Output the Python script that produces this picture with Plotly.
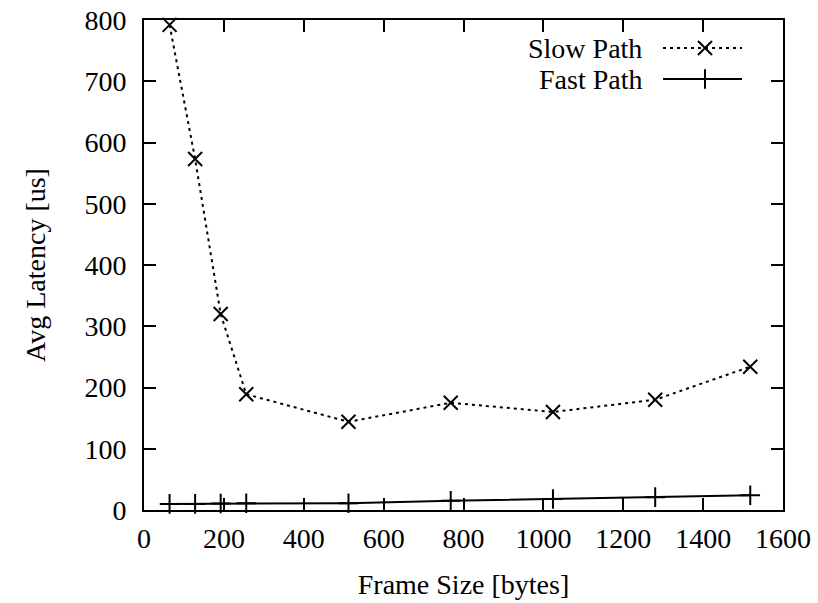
import plotly.graph_objects as go

frame_size = [64, 128, 192, 256, 512, 768, 1024, 1280, 1518]
slow_path = [792, 573, 320, 189, 144, 175, 160, 180, 234]
fast_path = [10, 10, 10.5, 11, 11, 15, 18, 21, 24]

x_ticks = [0, 200, 400, 600, 800, 1000, 1200, 1400, 1600]
y_ticks = [0, 100, 200, 300, 400, 500, 600, 700, 800]

FONT = "Liberation Serif"
FS = 28
W, H = 818, 603
# plot box in window pixels: left 144, right 783, top 20, bottom 510
L, R, T, B = 144, W - 783, 20, H - 510

fig = go.Figure()

fig.add_trace(go.Scatter(
    x=frame_size, y=slow_path, mode="lines+markers", name="Slow Path",
    line=dict(color="black", width=2, dash="3px,4px"),
    marker=dict(symbol="x-thin", size=14, line=dict(color="black", width=2)),
    showlegend=False, cliponaxis=False))
fig.add_trace(go.Scatter(
    x=frame_size, y=fast_path, mode="lines+markers", name="Fast Path",
    line=dict(color="black", width=2),
    marker=dict(symbol="cross-thin", size=14, line=dict(color="black", width=2)),
    showlegend=False, cliponaxis=False))

# legend samples (gnuplot style: text left of sample) on an overlay paper-like axis
def px2x(px):
    return (px - L) / (W - L - R)

def py2y(py):
    return (H - B - py) / (H - T - B)

lx0, lx1, lxm = px2x(663), px2x(742), px2x(705)
ly1, ly2 = py2y(48), py2y(79)

fig.add_trace(go.Scatter(x=[lx0, lx1], y=[ly1, ly1], mode="lines", xaxis="x2", yaxis="y2",
                         line=dict(color="black", width=2, dash="3px,4px"), showlegend=False,
                         hoverinfo="skip"))
fig.add_trace(go.Scatter(x=[lxm], y=[ly1], mode="markers", xaxis="x2", yaxis="y2",
                         marker=dict(symbol="x-thin", size=14, line=dict(color="black", width=2)),
                         showlegend=False, hoverinfo="skip"))
fig.add_trace(go.Scatter(x=[lx0, lx1], y=[ly2, ly2], mode="lines", xaxis="x2", yaxis="y2",
                         line=dict(color="black", width=2), showlegend=False, hoverinfo="skip"))
fig.add_trace(go.Scatter(x=[lxm], y=[ly2], mode="markers", xaxis="x2", yaxis="y2",
                         marker=dict(symbol="cross-thin", size=14, line=dict(color="black", width=2)),
                         showlegend=False, hoverinfo="skip"))

for name, yy in (("Slow Path", ly1), ("Fast Path", ly2)):
    fig.add_annotation(x=px2x(644), y=yy, xref="paper", yref="paper", text=name,
                       showarrow=False, xanchor="right", yanchor="middle",
                       font=dict(family=FONT, size=FS, color="black"))

axis_common = dict(
    showgrid=False, zeroline=False, showline=True, linecolor="black", linewidth=2,
    mirror="allticks", ticks="inside", ticklen=12, tickwidth=1.5, tickcolor="black",
    tickfont=dict(family=FONT, size=FS, color="black"),
)

fig.update_layout(
    width=W, height=H,
    margin=dict(l=L, r=R, t=T, b=B, autoexpand=False),
    plot_bgcolor="white", paper_bgcolor="white",
    font=dict(family=FONT, size=FS, color="black"),
    xaxis=dict(range=[0, 1600], tickvals=x_ticks, ticktext=[str(v) for v in x_ticks],
               ticklabelstandoff=2,
               title=dict(text="Frame Size [bytes]", font=dict(family=FONT, size=FS), standoff=22),
               **axis_common),
    yaxis=dict(range=[0, 800], tickvals=y_ticks, ticktext=[str(v) for v in y_ticks],
               ticklabelstandoff=10,
               title=dict(text="Avg Latency [us]", font=dict(family=FONT, size=FS), standoff=31),
               **axis_common),
    xaxis2=dict(range=[0, 1], overlaying="x", visible=False, fixedrange=True),
    yaxis2=dict(range=[0, 1], overlaying="y", visible=False, fixedrange=True),
    showlegend=False,
)

fig.write_html("out.html", config={"displayModeBar": False},
               post_script="document.body.style.margin='0';")
